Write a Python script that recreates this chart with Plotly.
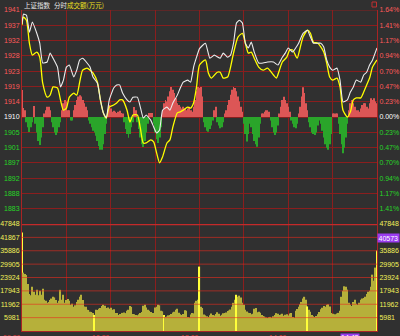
import plotly.graph_objects as go

# ---------------- data ----------------
PREV_CLOSE = 1910.0
STEP = 4.473          # one grid step = 0.234% of previous close
VOL_STEP = 5981

price_tick_labels = ["1883", "1888", "1892", "1897", "1901", "1905", "1910",
                     "1914", "1919", "1923", "1928", "1932", "1937", "1941"]   # k = -6..7
pct_tick_labels = ["1.41%", "1.17%", "0.94%", "0.70%", "0.47%", "0.23%", "0.00%",
                   "0.23%", "0.47%", "0.70%", "0.94%", "1.17%", "1.41%", "1.64%"]
vol_tick_values = [5981, 11962, 17943, 23924, 29905, 35886, 41867, 47848]
right_vol_labels = ["5981", "11962", "17943", "23924", "29905", "35886", "", "47848"]
time_labels = ["09:30", "10:30", "13:00", "14:00"]
time_label_minutes = [0, 60, 120, 180]
grid_minutes = [30, 60, 90, 120, 150, 180, 210]

white_min = [0, 1, 3, 5, 7, 10, 12, 14, 17, 19, 21, 24, 26, 28, 30, 32, 35, 37, 39, 41,
             44, 46, 48, 51, 53, 55, 57, 59, 62, 64, 66, 68, 71, 73, 75, 78, 80, 82, 84, 87,
             89, 91, 93, 95, 98, 100, 102, 105, 107, 109, 112, 114, 116, 118, 120, 124, 127, 130, 134, 136,
             139, 141, 143, 145, 147, 149, 151, 153, 155, 157, 160, 163, 166, 170, 173, 176, 178, 180, 183, 185,
             187, 190, 193, 195, 197, 200, 202, 204, 206, 208, 210, 213, 215, 217, 220, 222, 224, 226, 229, 231,
             233, 235, 237, 240]
white_val = [1937.2, 1940.1, 1939.8, 1934.8, 1937.8, 1934.5, 1931.6, 1925.8, 1926.1, 1928.7,
             1927.2, 1924.6, 1918.8, 1920.8, 1924.6, 1925.2, 1921.7, 1923.7, 1926.7, 1927.2,
             1925.8, 1924.6, 1921.7, 1919.9, 1915.0, 1911.2, 1909.7, 1915.0, 1918.5, 1919.4,
             1919.4, 1917.0, 1915.0, 1914.4, 1915.8, 1915.8, 1912.9, 1909.7, 1910.6, 1909.1,
             1907.1, 1905.3, 1906.2, 1912.0, 1912.9, 1912.0, 1914.1, 1916.4, 1918.5, 1920.2,
             1920.8, 1920.2, 1924.6, 1927.5, 1930.0, 1931.6, 1927.2, 1928.1, 1927.2, 1928.7,
             1927.5, 1928.1, 1931.6, 1937.5, 1938.3, 1937.5, 1931.6, 1930.2, 1931.9, 1929.0,
             1925.8, 1925.8, 1926.1, 1926.1, 1925.2, 1927.5, 1928.7, 1930.2, 1929.0, 1930.2,
             1931.6, 1934.5, 1935.4, 1933.4, 1931.6, 1931.6, 1931.6, 1930.5, 1926.7, 1924.6,
             1923.7, 1924.3, 1920.8, 1914.4, 1915.0, 1917.3, 1918.8, 1920.8, 1920.2, 1922.3,
             1923.1, 1925.2, 1926.7, 1930.2]

yellow_min = [0, 1, 3, 5, 7, 10, 12, 14, 17, 19, 21, 24, 26, 28, 30, 32, 35, 37, 39, 41,
              44, 46, 48, 51, 53, 55, 57, 59, 62, 64, 66, 68, 71, 73, 75, 78, 80, 82, 84, 87,
              89, 91, 93, 95, 98, 100, 102, 105, 107, 109, 112, 114, 116, 118, 120, 124, 126, 128, 132, 134,
              136, 139, 141, 143, 146, 149, 151, 153, 155, 157, 160, 163, 166, 170, 172, 174, 176, 179, 181, 183,
              186, 188, 190, 193, 195, 197, 200, 202, 204, 206, 208, 210, 213, 215, 217, 220, 222, 224, 226, 229,
              231, 233, 235, 237, 240]
yellow_val = [1936.9, 1939.2, 1938.3, 1931.6, 1928.1, 1929.0, 1927.5, 1919.9, 1915.8, 1916.4,
              1918.8, 1918.5, 1915.0, 1912.0, 1912.6, 1915.8, 1917.0, 1916.4, 1920.2, 1923.7,
              1924.3, 1923.7, 1922.9, 1920.2, 1915.0, 1911.2, 1909.7, 1912.9, 1913.5, 1914.1,
              1915.0, 1915.0, 1912.0, 1908.5, 1910.6, 1910.6, 1906.8, 1902.4, 1902.4, 1903.3,
              1902.7, 1899.5, 1896.6, 1898.3, 1902.4, 1903.3, 1907.1, 1911.2, 1911.5, 1912.0,
              1912.9, 1912.6, 1914.1, 1918.8, 1925.2, 1926.7, 1922.9, 1921.4, 1923.1, 1923.1,
              1921.4, 1921.7, 1924.6, 1928.7, 1933.4, 1934.5, 1931.6, 1928.7, 1929.0, 1927.2,
              1924.6, 1923.7, 1924.3, 1922.3, 1921.4, 1923.7, 1926.1, 1927.5, 1929.6, 1929.6,
              1927.2, 1930.2, 1933.4, 1935.4, 1934.5, 1931.9, 1931.6, 1930.5, 1929.0, 1925.8,
              1921.7, 1920.8, 1921.4, 1918.8, 1912.0, 1910.0, 1911.5, 1915.0, 1915.6, 1915.6,
              1917.3, 1919.4, 1921.4, 1924.6, 1926.7]

# red/green strength bars (index points above/below previous close), one per minute
strength = [
    7.9, 2.6, 2.0, -1.5, -3.0, -4.4, -3.0, -1.5, 3.2, -2.0,
    -4.5, -7.0, -8.2, -6.0, -3.0, 1.0, 2.0, 3.0, 3.0, 2.0,
    -1.5, -3.0, -4.5, -5.3, -4.5, -3.0, -1.5, 2.0, 4.0, 5.0,
    4.5, 2.0, 2.0, -1.0, -1.0, 2.0, 3.5, 5.0, 6.0, 6.4,
    6.0, 5.0, 4.0, 3.0, 2.0, -1.0, -2.0, -3.0, -4.0, -4.5,
    -5.5, -7.0, -8.5, -9.6, -9.6, -8.0, -5.0, -2.0, 2.0, 3.5,
    2.5, 1.5, 1.8, 1.5, 1.2, 1.5, 1.8, 1.2, 1.0, -1.5,
    -3.5, -5.0, -6.1, -5.0, -3.0, -1.5, 2.9, 2.0, -1.5, -3.5,
    -6.0, -8.0, -8.8, -7.0, -4.5, -2.0, 1.2, 1.2, 1.2, -2.0,
    -4.5, -6.5, -7.6, -6.0, -3.0, 2.0, 4.0, 5.0, 4.5, 6.0,
    7.5, 8.8, 8.0, 7.0, 5.5, 4.0, 3.5, 3.0, 2.5, 3.0,
    2.5, 2.0, 2.5, 3.0, 2.0, 1.5, 3.0, 5.0, 7.5, 8.8,
    8.5, 8.8, 6.0, -1.5, -3.0, -4.0, -4.3, -3.5, -2.5, -1.0,
    2.0, 3.0, -1.5, -2.5, -3.3, -3.0, -1.5, 1.0, 2.0, 3.5,
    5.0, 6.5, 8.0, 8.8, 8.5, 7.5, 6.0, 4.5, 3.0, 1.5,
    -2.0, -5.0, -7.2, -5.0, -2.0, -3.0, -5.0, -7.0, -8.0, -8.7,
    -6.0, -2.0, 1.0, 1.0, 1.5, 2.0, 2.0, 1.5, -1.0, -3.0,
    -4.5, -5.3, -4.5, -2.5, 1.0, 3.0, 5.0, 5.9, 5.0, 4.0,
    3.0, 1.5, -1.0, -2.0, -3.0, -3.3, -2.0, 1.0, 3.0, 6.0,
    8.7, 7.0, 4.0, 2.0, -1.5, -3.0, -4.5, -5.0, -5.3, -4.5,
    -2.5, -1.0, -2.0, -4.0, -6.0, -8.0, -9.0, -9.6, -8.0, -5.0,
    1.0, 1.0, 1.0, 1.0, -2.0, -5.0, -8.0, -10.6, -9.0, -6.0,
    -2.0, 2.0, 4.0, 5.0, 4.0, 3.0, 2.0, 2.0, 1.5, 2.5,
    3.5, 4.0, 4.0, 3.0, 2.5, 4.0, 5.5, 5.0, 5.5, 4.5,
    4.0]

# turnover per minute (万元)
volume = [
    44100, 26100, 25500, 25000, 21000, 16500, 16000, 19800, 17500, 16200,
    18400, 16000, 18000, 16200, 18900, 14000, 13500, 12600, 13000, 13900,
    14500, 15300, 15000, 13900, 12600, 13500, 18400, 14000, 16200, 12600,
    13900, 14300, 13500, 11700, 12200, 10800, 11500, 13000, 14000, 15300,
    16200, 13900, 11000, 10800, 9500, 9400, 8600, 8500, 8000, 7200,
    9500, 9400, 9900, 10300, 11200, 11700, 11300, 10300, 10500, 10000,
    10400, 9500, 9700, 8100, 8000, 7200, 7600, 7300, 8100, 8300,
    8000, 9000, 9500, 11200, 10800, 7600, 7500, 7200, 7000, 7500,
    8100, 8500, 11300, 11700, 10500, 9500, 9000, 8500, 8000, 8100,
    10500, 10800, 11700, 11500, 9000, 8800, 7200, 6300, 6500, 7000,
    7200, 7600, 8300, 8600, 9500, 10000, 8200, 7500, 7200, 7600,
    9300, 9100, 6300, 6000, 7400, 8100, 7900, 12600, 13500, 14000,
    28800, 10800, 10300, 7400, 7000, 6600, 6300, 7000, 7800, 7200,
    6900, 7600, 8400, 7700, 6800, 7300, 7900, 8000, 8300, 8900,
    9200, 9600, 10800, 12600, 14000, 16200, 15300, 15800, 15000, 12600,
    11700, 9500, 8700, 8200, 8000, 7500, 7700, 10000, 10300, 8400,
    8600, 8200, 7200, 6700, 6500, 6000, 5800, 6100, 6300, 5900,
    6600, 7200, 8000, 7700, 7100, 7400, 7700, 6800, 7300, 7500,
    6900, 7800, 8000, 6300, 5900, 9000, 9800, 10800, 12000, 13000,
    14500, 15300, 14000, 11000, 9500, 8600, 7200, 6600, 6300, 6700,
    7500, 8500, 9700, 10400, 11200, 10800, 11700, 12000, 11000, 8000,
    7700, 7200, 7500, 7800, 8100, 9000, 15300, 18000, 20000, 19800,
    18500, 12600, 11700, 11200, 13000, 14000, 12200, 11700, 12600, 14000,
    14500, 14800, 15300, 16500, 17500, 18000, 19800, 25200, 22500, 28350,
    36000]
highlight_minutes = [0, 49, 96, 120, 145, 193, 240]
cursor_volume = 40573
cursor_time = "14:43"
cursor_minute = 222

# ---------------- styling ----------------
BG = "#303030"
GRID = "#8a1e1e"
BORDER = "#a82424"
RED_TXT = "#ff5a5a"
GREEN_TXT = "#27d627"
YEL_TXT = "#f2f05a"
FONT = "Liberation Sans, Arial, sans-serif"
CJK = "Noto Sans CJK SC"

minutes = list(range(len(volume)))
red_x = [m for m, s in zip(minutes, strength) if s > 0]
red_y = [s for s in strength if s > 0]
green_x = [m for m, s in zip(minutes, strength) if s < 0]
green_y = [s for s in strength if s < 0]
vol_colors = ["#ffff3a" if m in highlight_minutes else "#b6b03a" for m in minutes]

ks = list(range(-6, 8))
price_ticks = [PREV_CLOSE + k * STEP for k in ks]


def col_for(k):
    return RED_TXT if k > 0 else ("#ffffff" if k == 0 else GREEN_TXT)


left_text = [f'<span style="color:{col_for(k)}">{t}</span>' for k, t in zip(ks, price_tick_labels)]
right_text = [f'<span style="color:{col_for(k)}">{t}</span>' for k, t in zip(ks, pct_tick_labels)]
vol_text = [str(v) for v in vol_tick_values]

fig = go.Figure()
fig.add_trace(go.Bar(x=red_x, y=red_y, base=PREV_CLOSE, width=0.62,
                     marker=dict(color="#dc5656", line=dict(width=0)), xaxis="x", yaxis="y"))
fig.add_trace(go.Bar(x=green_x, y=green_y, base=PREV_CLOSE, width=0.62,
                     marker=dict(color="#2aa52a", line=dict(width=0)), xaxis="x", yaxis="y"))
fig.add_trace(go.Scatter(x=yellow_min, y=yellow_val, mode="lines",
                         line=dict(color="#ffff00", width=1.3, shape="spline", smoothing=0.6),
                         xaxis="x", yaxis="y"))
fig.add_trace(go.Scatter(x=white_min, y=white_val, mode="lines",
                         line=dict(color="#ececec", width=1.1, shape="spline", smoothing=0.4),
                         xaxis="x", yaxis="y"))
fig.add_trace(go.Bar(x=minutes, y=volume, width=0.8,
                     marker=dict(color=vol_colors, line=dict(width=0)), xaxis="x", yaxis="y2"))

prange = [PREV_CLOSE - 7 * STEP, PREV_CLOSE + 7 * STEP]
vrange = [0, 8 * VOL_STEP]
tickfont = dict(family=FONT, size=7)
common_y = dict(showline=True, linecolor=BORDER, linewidth=1, zeroline=False, automargin=False,
                ticks="", ticklabelstandoff=0, tickfont=tickfont, fixedrange=True)
vol_font = dict(family=FONT, size=7, color=YEL_TXT)

fig.update_layout(
    width=400, height=336,
    margin=dict(l=22, r=23, t=10, b=5, autoexpand=False),
    paper_bgcolor=BG, plot_bgcolor=BG,
    showlegend=False, barmode="overlay",
    xaxis=dict(domain=[0, 1], range=[0, 240], anchor="y2", tickvals=grid_minutes, automargin=False,
               showgrid=True, gridcolor=GRID, gridwidth=1, showticklabels=False, ticks="",
               showline=True, linecolor=BORDER, zeroline=False, fixedrange=True),
    yaxis=dict(domain=[1 / 3, 1], range=prange, anchor="x", side="left",
               tickvals=price_ticks, ticktext=left_text, showgrid=True, gridcolor=GRID, **common_y),
    yaxis3=dict(overlaying="y", range=prange, anchor="x", side="right",
                tickvals=price_ticks, ticktext=right_text, showgrid=False, **common_y),
    yaxis2=dict(domain=[0, 1 / 3], range=vrange, anchor="x", side="left",
                tickvals=vol_tick_values, ticktext=vol_text, showgrid=False,
                **{**common_y, "tickfont": vol_font}),
    yaxis4=dict(overlaying="y2", range=vrange, anchor="x", side="right",
                tickvals=vol_tick_values, ticktext=right_vol_labels, showgrid=False,
                **{**common_y, "tickfont": vol_font}),
)

# dummy traces so the right-side axes are rendered
fig.add_trace(go.Scatter(x=[None], y=[None], xaxis="x", yaxis="y3", showlegend=False))
fig.add_trace(go.Scatter(x=[None], y=[None], xaxis="x", yaxis="y4", showlegend=False))

shapes = []
# top border of the price panel
shapes.append(dict(type="line", xref="paper", x0=0, x1=1, yref="y", y0=prange[1], y1=prange[1],
                   line=dict(color=GRID, width=1), layer="below"))
# volume grid lines drawn above the bars
for v in vol_tick_values[:-1]:
    shapes.append(dict(type="line", xref="paper", x0=0, x1=1, yref="y2", y0=v, y1=v,
                       line=dict(color="rgba(232,44,30,0.6)", width=1), layer="above"))
# thick separator between panels
shapes.append(dict(type="line", xref="paper", x0=0, x1=1, yref="y2", y0=vol_tick_values[-1],
                   y1=vol_tick_values[-1], line=dict(color="#c42a2a", width=2.5), layer="above"))
# small icon top-right
shapes.append(dict(type="rect", xref="paper", yref="paper", x0=0.9859, x1=0.9986,
                   y0=1.0093, y1=1.0249, line=dict(color="#c03030", width=1), fillcolor=BG))
fig.update_layout(shapes=shapes)

PH = 321.0
PW = 355.0
hdr_y = 1 + 5 / PH
annotations = [
    dict(text="上证指数", x=1 / PW, y=hdr_y, xref="paper", yref="paper", xanchor="left",
         yanchor="middle", showarrow=False, borderpad=0,
         font=dict(family=CJK, size=6.5, color="#e8e8e8")),
    dict(text="分时", x=31 / PW, y=hdr_y, xref="paper", yref="paper", xanchor="left",
         yanchor="middle", showarrow=False, borderpad=0,
         font=dict(family=CJK, size=6.5, color="#e8e8e8")),
    dict(text="成交额(万元)", x=44 / PW, y=hdr_y, xref="paper", yref="paper", xanchor="left",
         yanchor="middle", showarrow=False, borderpad=0,
         font=dict(family=CJK, size=6.5, color="#f0e020")),
    dict(text=str(cursor_volume), x=1, xref="paper", xanchor="left", y=cursor_volume, yref="y2",
         yanchor="middle", yshift=2, showarrow=False, bgcolor="#9b3cf0", borderpad=0.5,
         font=dict(family=FONT, size=7, color="#ffffff")),
    dict(text=cursor_time, x=cursor_minute, xref="x", xanchor="center", y=-2 / PH, yref="paper",
         yanchor="top", showarrow=False, bgcolor="#9b3cf0", borderpad=0,
         font=dict(family=FONT, size=7, color="#ffffff")),
]
for t, m in zip(time_labels, time_label_minutes):
    annotations.append(dict(text=t, x=m, xref="x", xanchor="right", y=-2 / PH, yref="paper",
                            yanchor="top", showarrow=False, borderpad=0,
                            font=dict(family=FONT, size=7, color="#e03a3a")))
fig.update_layout(annotations=annotations)

fig.write_html("out.html")
